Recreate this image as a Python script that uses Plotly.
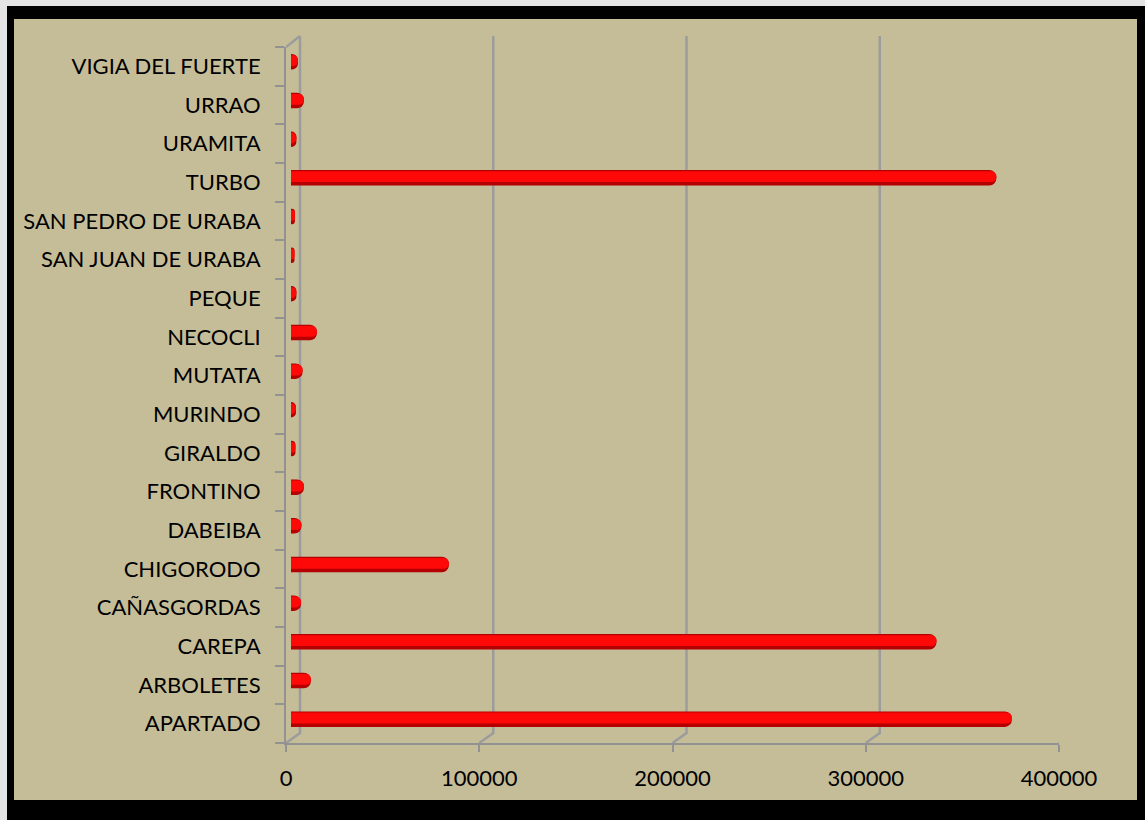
import plotly.graph_objects as go

# ---- data (bottom to top, as in the chart) ----
municipios = ["APARTADO", "ARBOLETES", "CAREPA", "CAÑASGORDAS", "CHIGORODO",
              "DABEIBA", "FRONTINO", "GIRALDO", "MURINDO", "MUTATA", "NECOCLI",
              "PEQUE", "SAN JUAN DE URABA", "SAN PEDRO DE URABA", "TURBO",
              "URAMITA", "URRAO", "VIGIA DEL FUERTE"]
valores = [373000, 10300, 334000, 5200, 81700,
           5400, 6700, 2300, 2600, 6000, 13400,
           2800, 1800, 2000, 365000,
           2800, 6700, 3600]
x_ticks = [0, 100000, 200000, 300000, 400000]
x_tick_labels = ["0", "100000", "200000", "300000", "400000"]

# ---- geometry / style ----
W, H = 1145, 820
ML, MR, MT, MB = 286, 86, 47, 77
PW, PH = W - ML - MR, H - MT - MB
XMAX = 400000
DEPTH_X, DEPTH_Y = 14, 10          # 3D depth of back wall (px)
BAR_SHIFT_X = 5                    # bars sit mid-depth (px)
BAR_SHIFT_Y = 4.5
CAT_PX = PH / len(municipios)
bar_dy = BAR_SHIFT_Y / CAT_PX
shift_val = BAR_SHIFT_X / PW * XMAX

TAN = "#C5BD98"
GRID = "#9C9C9C"
FONT = "Lato"


def px_x(p):
    return (p - ML) / PW


def px_y(p):
    return (H - MB - p) / PH


fig = go.Figure()

BW = 0.40
HW = 0.28
fig.add_trace(go.Bar(
    y=municipios, x=valores, orientation="h", xaxis="x2",
    width=BW, offset=-BW / 2 + bar_dy,
    marker=dict(color="#B40000", line=dict(width=0), cornerradius=7),
    hoverinfo="skip", showlegend=False))
fig.add_trace(go.Bar(
    y=municipios, x=valores, orientation="h", xaxis="x2",
    width=HW, offset=-BW / 2 + bar_dy + (BW - HW) - 0.03,
    marker=dict(color="#FF0808", line=dict(width=0), cornerradius=6),
    hoverinfo="skip", showlegend=False))

shapes = [
    # outer black frame
    dict(type="rect", xref="paper", yref="paper", layer="below",
         x0=px_x(7), x1=px_x(W + 5), y0=px_y(6), y1=px_y(H + 5),
         fillcolor="black", line=dict(width=0)),
    # tan panel
    dict(type="rect", xref="paper", yref="paper", layer="below",
         x0=px_x(14), x1=px_x(1137), y0=px_y(19), y1=px_y(800),
         fillcolor=TAN, line=dict(width=0)),
]
wall_h = PH + (MT - 36) - DEPTH_Y
for v in x_ticks:
    shapes.append(dict(
        type="path", xref="x", yref="paper", layer="below",
        xsizemode="pixel", ysizemode="pixel", xanchor=v, yanchor=0,
        path=f"M 0,0 L {DEPTH_X},{DEPTH_Y} L {DEPTH_X},{DEPTH_Y + wall_h}",
        line=dict(color=GRID, width=2.5)))
# top edge of left wall
shapes.append(dict(
    type="path", xref="x", yref="paper", layer="below",
    xsizemode="pixel", ysizemode="pixel", xanchor=0, yanchor=1,
    path=f"M 0,0 L {DEPTH_X},{DEPTH_Y + 1}",
    line=dict(color=GRID, width=2.5)))

fig.update_layout(
    width=W, height=H,
    margin=dict(l=ML, r=MR, t=MT, b=MB, pad=0),
    paper_bgcolor="#E4E4E4",
    plot_bgcolor="rgba(0,0,0,0)",
    barmode="overlay",
    font=dict(family=FONT, size=22, color="black"),
    shapes=shapes,
    xaxis=dict(range=[0, XMAX], tickvals=x_ticks, ticktext=x_tick_labels,
               showgrid=False, zeroline=False, showline=True,
               linecolor="#929292", linewidth=2,
               ticks="outside", ticklen=7, tickwidth=2, tickcolor="#929292",
               ticklabelstandoff=8, fixedrange=True),
    xaxis2=dict(overlaying="x", range=[-shift_val, XMAX - shift_val],
                visible=False, fixedrange=True),
    yaxis=dict(type="category", categoryorder="array", categoryarray=municipios,
               range=[-0.5, len(municipios) - 0.5],
               showgrid=False, zeroline=False, showline=True,
               linecolor="#929292", linewidth=2,
               ticks="outside", tickson="boundaries", ticklen=9, tickwidth=2,
               tickcolor="#929292", ticklabelstandoff=19, fixedrange=True),
)

fig.write_html("out.html",
               config={"displayModeBar": False},
               post_script="document.body.style.margin='0';"
                           "document.body.style.overflow='hidden';")
